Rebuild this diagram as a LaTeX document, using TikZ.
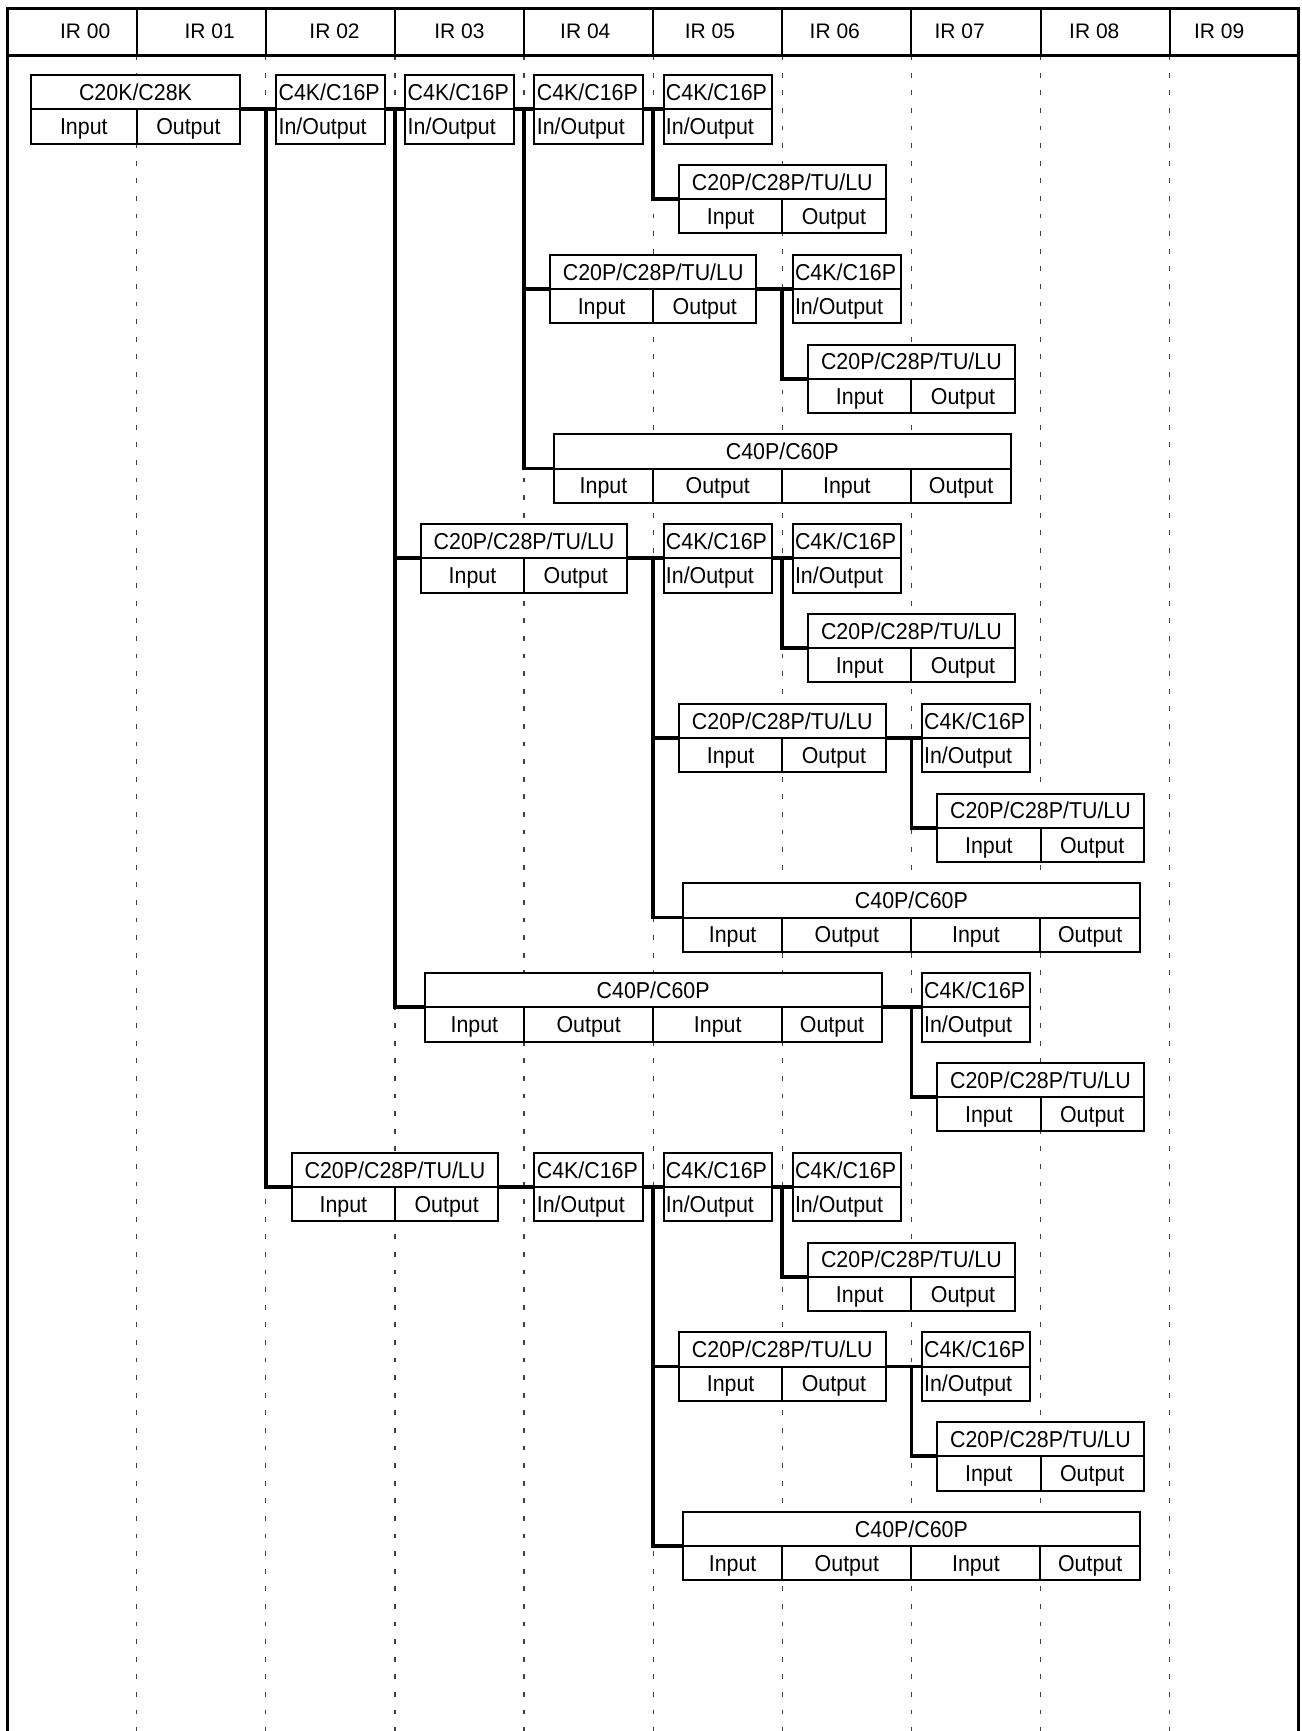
\documentclass[tikz,border=0pt]{standalone}
\usepackage{fontspec}
\setmainfont{Liberation Sans}
\newfontfamily\boxfont{Liberation Sans}[FakeStretch=0.93]
\usepackage{tikz}
\usetikzlibrary{positioning}

\begin{document}
\begin{tikzpicture}[x=64.55pt, y=-0.5pt,
    framelin/.style={line width=1.5pt},
    gridline/.style={black!75, line width=0.6pt, dash pattern=on 2.4pt off 6.4pt},
    busline/.style={line width=1.9pt},
    ttlbox/.style={draw, fill=white, line width=1pt, anchor=south west, minimum height=17.1pt,
        inner sep=0pt, outer sep=0pt, text height=8.2pt, text depth=0pt, font=\boxfont\fontsize{11.5pt}{13pt}\selectfont},
    cellbox/.style={ttlbox, anchor=north west, minimum width=51.64pt},
    kbox/.style={text width=51.8pt, align=left, inner xsep=1.2pt},
    widebox/.style={minimum width=103.28pt},
    longbox/.style={minimum width=228.5pt},
    endcell/.style={minimum width=49.7pt},
    midcell/.style={minimum width=64.55pt}]
    \useasboundingbox (-0.0596,0) rectangle (10.0256,1731);

    % grid
    \foreach \c in {1,...,9}
        \draw [gridline] (\c,55.2) -- (\c,1731);
    \draw [framelin] (0,1731) -- (0,8.8) -- (10,8.8) -- (10,1731);
    \draw [framelin] (0,55.2) -- (10,55.2);
    \foreach \c in {1,...,9}
        \draw [line width=1pt] (\c,8.8) -- (\c,55.2);
    \foreach \x/\n in {0.6/00, 1.565/01, 2.532/02, 3.499/03, 4.474/04, 5.44/05, 6.407/06, 7.374/07, 8.417/08, 9.384/09}
        \node [font=\fontsize{10.5pt}{12pt}\selectfont] (ir\n) at (\x,31) {IR \n};

    % row 1
    \node [ttlbox, minimum width=104.6pt] (b1k) at (0.18,109.3) {C20K/C28K};
    \node [cellbox, minimum width=52.9pt] (b1ki) at (b1k.south west) {Input};
    \node [cellbox, right=0pt of b1ki] (b1ko) {Output};
    \node [ttlbox, kbox] (b1a) at (2.08,109.3) {C4K/C16P};
    \node [cellbox, kbox] (b1ax) at (b1a.south west) {In/Output};
    \node [ttlbox, kbox] (b1b) at (3.08,109.3) {C4K/C16P};
    \node [cellbox, kbox] (b1bx) at (b1b.south west) {In/Output};
    \node [ttlbox, kbox] (b1c) at (4.08,109.3) {C4K/C16P};
    \node [cellbox, kbox] (b1cx) at (b1c.south west) {In/Output};
    \node [ttlbox, kbox] (b1d) at (5.08,109.3) {C4K/C16P};
    \node [cellbox, kbox] (b1dx) at (b1d.south west) {In/Output};

    % row 2
    \node [ttlbox, widebox] (b2a) at (5.2,199.1) {C20P/C28P/TU/LU};
    \node [cellbox] (b2ai) at (b2a.south west) {Input};
    \node [cellbox, right=0pt of b2ai] (b2ao) {Output};

    % row 3
    \node [ttlbox, widebox] (b3a) at (4.2,288.9) {C20P/C28P/TU/LU};
    \node [cellbox] (b3ai) at (b3a.south west) {Input};
    \node [cellbox, right=0pt of b3ai] (b3ao) {Output};
    \node [ttlbox, kbox] (b3b) at (6.08,288.9) {C4K/C16P};
    \node [cellbox, kbox] (b3bx) at (b3b.south west) {In/Output};

    % row 4
    \node [ttlbox, widebox] (b4a) at (6.2,378.7) {C20P/C28P/TU/LU};
    \node [cellbox] (b4ai) at (b4a.south west) {Input};
    \node [cellbox, right=0pt of b4ai] (b4ao) {Output};

    % row 5
    \node [ttlbox, longbox] (b5a) at (4.23,468.5) {C40P/C60P};
    \node [cellbox, endcell] (b5a1) at (b5a.south west) {Input};
    \node [cellbox, midcell, right=0pt of b5a1] (b5a2) {Output};
    \node [cellbox, midcell, right=0pt of b5a2] (b5a3) {Input};
    \node [cellbox, endcell, right=0pt of b5a3] (b5a4) {Output};

    % row 6
    \node [ttlbox, widebox] (b6a) at (3.2,558.3) {C20P/C28P/TU/LU};
    \node [cellbox] (b6ai) at (b6a.south west) {Input};
    \node [cellbox, right=0pt of b6ai] (b6ao) {Output};
    \node [ttlbox, kbox] (b6b) at (5.08,558.3) {C4K/C16P};
    \node [cellbox, kbox] (b6bx) at (b6b.south west) {In/Output};
    \node [ttlbox, kbox] (b6c) at (6.08,558.3) {C4K/C16P};
    \node [cellbox, kbox] (b6cx) at (b6c.south west) {In/Output};

    % row 7
    \node [ttlbox, widebox] (b7a) at (6.2,648.1) {C20P/C28P/TU/LU};
    \node [cellbox] (b7ai) at (b7a.south west) {Input};
    \node [cellbox, right=0pt of b7ai] (b7ao) {Output};

    % row 8
    \node [ttlbox, widebox] (b8a) at (5.2,737.9) {C20P/C28P/TU/LU};
    \node [cellbox] (b8ai) at (b8a.south west) {Input};
    \node [cellbox, right=0pt of b8ai] (b8ao) {Output};
    \node [ttlbox, kbox] (b8b) at (7.08,737.9) {C4K/C16P};
    \node [cellbox, kbox] (b8bx) at (b8b.south west) {In/Output};

    % row 9
    \node [ttlbox, widebox] (b9a) at (7.2,827.7) {C20P/C28P/TU/LU};
    \node [cellbox] (b9ai) at (b9a.south west) {Input};
    \node [cellbox, right=0pt of b9ai] (b9ao) {Output};

    % row 10
    \node [ttlbox, longbox] (b10a) at (5.23,917.5) {C40P/C60P};
    \node [cellbox, endcell] (b10a1) at (b10a.south west) {Input};
    \node [cellbox, midcell, right=0pt of b10a1] (b10a2) {Output};
    \node [cellbox, midcell, right=0pt of b10a2] (b10a3) {Input};
    \node [cellbox, endcell, right=0pt of b10a3] (b10a4) {Output};

    % row 11
    \node [ttlbox, longbox] (b11a) at (3.23,1007.3) {C40P/C60P};
    \node [cellbox, endcell] (b11a1) at (b11a.south west) {Input};
    \node [cellbox, midcell, right=0pt of b11a1] (b11a2) {Output};
    \node [cellbox, midcell, right=0pt of b11a2] (b11a3) {Input};
    \node [cellbox, endcell, right=0pt of b11a3] (b11a4) {Output};
    \node [ttlbox, kbox] (b11b) at (7.08,1007.3) {C4K/C16P};
    \node [cellbox, kbox] (b11bx) at (b11b.south west) {In/Output};

    % row 12
    \node [ttlbox, widebox] (b12a) at (7.2,1097.1) {C20P/C28P/TU/LU};
    \node [cellbox] (b12ai) at (b12a.south west) {Input};
    \node [cellbox, right=0pt of b12ai] (b12ao) {Output};

    % row 13
    \node [ttlbox, widebox] (b13a) at (2.2,1186.9) {C20P/C28P/TU/LU};
    \node [cellbox] (b13ai) at (b13a.south west) {Input};
    \node [cellbox, right=0pt of b13ai] (b13ao) {Output};
    \node [ttlbox, kbox] (b13b) at (4.08,1186.9) {C4K/C16P};
    \node [cellbox, kbox] (b13bx) at (b13b.south west) {In/Output};
    \node [ttlbox, kbox] (b13c) at (5.08,1186.9) {C4K/C16P};
    \node [cellbox, kbox] (b13cx) at (b13c.south west) {In/Output};
    \node [ttlbox, kbox] (b13d) at (6.08,1186.9) {C4K/C16P};
    \node [cellbox, kbox] (b13dx) at (b13d.south west) {In/Output};

    % row 14
    \node [ttlbox, widebox] (b14a) at (6.2,1276.7) {C20P/C28P/TU/LU};
    \node [cellbox] (b14ai) at (b14a.south west) {Input};
    \node [cellbox, right=0pt of b14ai] (b14ao) {Output};

    % row 15
    \node [ttlbox, widebox] (b15a) at (5.2,1366.5) {C20P/C28P/TU/LU};
    \node [cellbox] (b15ai) at (b15a.south west) {Input};
    \node [cellbox, right=0pt of b15ai] (b15ao) {Output};
    \node [ttlbox, kbox] (b15b) at (7.08,1366.5) {C4K/C16P};
    \node [cellbox, kbox] (b15bx) at (b15b.south west) {In/Output};

    % row 16
    \node [ttlbox, widebox] (b16a) at (7.2,1456.3) {C20P/C28P/TU/LU};
    \node [cellbox] (b16ai) at (b16a.south west) {Input};
    \node [cellbox, right=0pt of b16ai] (b16ao) {Output};

    % row 17
    \node [ttlbox, longbox] (b17a) at (5.23,1546.1) {C40P/C60P};
    \node [cellbox, endcell] (b17a1) at (b17a.south west) {Input};
    \node [cellbox, midcell, right=0pt of b17a1] (b17a2) {Output};
    \node [cellbox, midcell, right=0pt of b17a2] (b17a3) {Input};
    \node [cellbox, endcell, right=0pt of b17a3] (b17a4) {Output};

    % bus
    \coordinate (j12) at (2,109.3);
    \coordinate (j13) at (3,109.3);
    \coordinate (j14) at (4,109.3);
    \coordinate (j15) at (5,109.3);
    \coordinate (j36) at (6,288.9);
    \coordinate (j65) at (5,558.3);
    \coordinate (j66) at (6,558.3);
    \coordinate (j87) at (7,737.9);
    \coordinate (j117) at (7,1007.3);
    \coordinate (j135) at (5,1186.9);
    \coordinate (j136) at (6,1186.9);
    \coordinate (j157) at (7,1366.5);

    \draw [busline] (b1k.south east) -- (b1a.south west);
    \draw [busline] (b1a.south east) -- (b1b.south west);
    \draw [busline] (b1b.south east) -- (b1c.south west);
    \draw [busline] (b1c.south east) -- (b1d.south west);
    \draw [busline] (j12) |- (b13a.south west);
    \draw [busline] (j13) |- (b11a.south west);
    \draw [busline] (j13 |- b6a.south west) -- (b6a.south west);
    \draw [busline] (j14) |- (b5a.south west);
    \draw [busline] (j14 |- b3a.south west) -- (b3a.south west);
    \draw [busline] (j15) |- (b2a.south west);

    \draw [busline] (b3a.south east) -- (b3b.south west);
    \draw [busline] (j36) |- (b4a.south west);

    \draw [busline] (b6a.south east) -- (b6b.south west);
    \draw [busline] (b6b.south east) -- (b6c.south west);
    \draw [busline] (j65) |- (b10a.south west);
    \draw [busline] (j65 |- b8a.south west) -- (b8a.south west);
    \draw [busline] (j66) |- (b7a.south west);

    \draw [busline] (b8a.south east) -- (b8b.south west);
    \draw [busline] (j87) |- (b9a.south west);

    \draw [busline] (b11a.south east) -- (b11b.south west);
    \draw [busline] (j117) |- (b12a.south west);

    \draw [busline] (b13a.south east) -- (b13b.south west);
    \draw [busline] (b13b.south east) -- (b13c.south west);
    \draw [busline] (b13c.south east) -- (b13d.south west);
    \draw [busline] (j135) |- (b17a.south west);
    \draw [busline] (j135 |- b15a.south west) -- (b15a.south west);
    \draw [busline] (j136) |- (b14a.south west);

    \draw [busline] (b15a.south east) -- (b15b.south west);
    \draw [busline] (j157) |- (b16a.south west);
\end{tikzpicture}
\end{document}
